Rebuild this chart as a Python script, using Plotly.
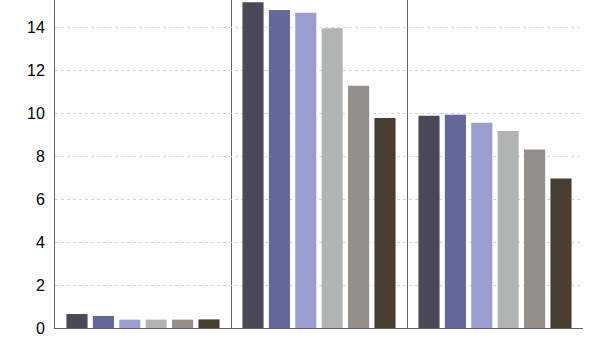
import plotly.graph_objects as go

categories = ["Group 1", "Group 2", "Group 3"]
series_names = ["S1", "S2", "S3", "S4", "S5", "S6"]
series_values = [
    [0.65, 15.15, 9.87],
    [0.56, 14.80, 9.92],
    [0.39, 14.67, 9.55],
    [0.39, 13.95, 9.16],
    [0.39, 11.27, 8.31],
    [0.40, 9.77, 6.96],
]
colors = ["#4a4858", "#65689a", "#9b9dcf", "#b1b4b3", "#958d88", "#473d31"]
y_ticks = [0, 2, 4, 6, 8, 10, 12, 14]

fig = go.Figure()
for name, vals, c in zip(series_names, series_values, colors):
    fig.add_trace(go.Bar(name=name, x=categories, y=vals, marker_color=c,
                         marker_line_width=0))

fig.update_layout(
    width=600, height=338,
    margin=dict(l=55, r=17, t=0, b=10),
    paper_bgcolor="white", plot_bgcolor="white",
    barmode="group", bargap=0.1, bargroupgap=0.2,
    showlegend=False,
    font=dict(family="Liberation Sans, Arial, sans-serif", size=16, color="#000"),
)
fig.update_xaxes(
    range=[-0.5, 2.5], showticklabels=False, ticks="",
    showline=True, linecolor="#666", linewidth=1, mirror=True,
    tickson="boundaries", showgrid=True, gridcolor="#666", gridwidth=1,
)
fig.update_yaxes(
    range=[0, 15.26], tickvals=y_ticks, ticks="", ticklen=0,
    ticklabelstandoff=6,
    showline=True, linecolor="#666", linewidth=1,
    showgrid=True, gridcolor="#d5d5d5", griddash="dot", gridwidth=1,
    zeroline=False,
)

fig.write_html("out.html")
